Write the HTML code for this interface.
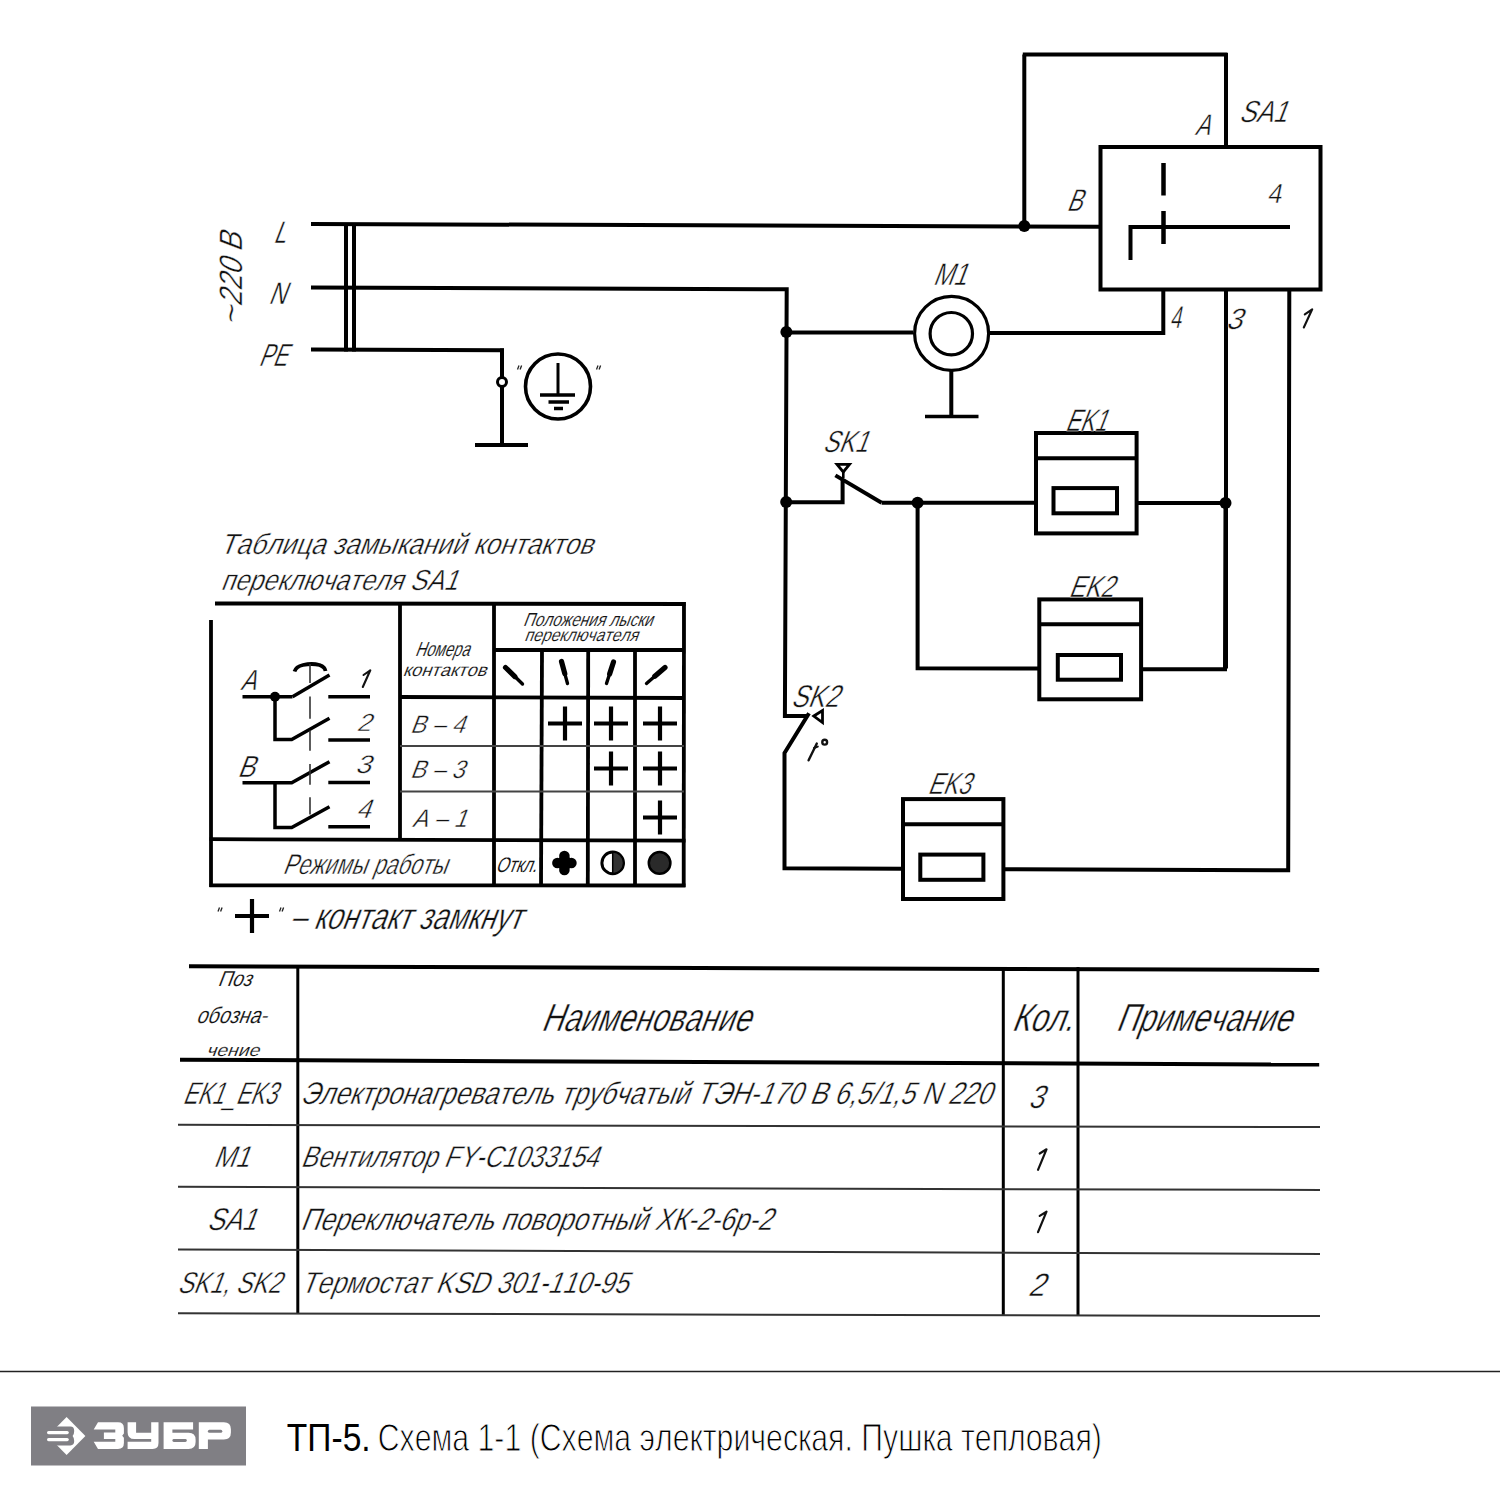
<!DOCTYPE html>
<html><head><meta charset="utf-8"><style>
html,body{margin:0;padding:0;background:#fff;}
svg{display:block;}
text{font-family:"Liberation Sans",sans-serif;font-kerning:none;font-variant-ligatures:none;}
</style></head><body>
<svg width="1500" height="1500" viewBox="0 0 1500 1500">
<rect width="1500" height="1500" fill="#fff"/>
<line x1="311" y1="223.9" x2="1100" y2="226.8" stroke="#000" stroke-width="4.0"/>
<polyline points="311,287.6 786.7,289.3 784.9,716 807.5,716" fill="none" stroke="#000" stroke-width="4.0" stroke-linejoin="miter"/>
<line x1="311" y1="349.5" x2="504" y2="350.3" stroke="#000" stroke-width="4.0"/>
<line x1="346" y1="223.0" x2="346" y2="351.5" stroke="#000" stroke-width="4.0"/>
<line x1="354" y1="223.0" x2="354" y2="351.5" stroke="#000" stroke-width="4.0"/>
<line x1="502" y1="348.5" x2="502" y2="445" stroke="#000" stroke-width="4.0"/>
<line x1="475" y1="445" x2="528" y2="445" stroke="#000" stroke-width="4"/>
<circle cx="502" cy="382" r="4.5" fill="#fff" stroke="#000" stroke-width="3"/>
<circle cx="558" cy="386.5" r="32.5" fill="none" stroke="#000" stroke-width="3.6"/>
<line x1="558" y1="363" x2="558" y2="395" stroke="#000" stroke-width="3"/>
<line x1="540" y1="395" x2="575" y2="395" stroke="#000" stroke-width="3.5"/>
<line x1="548.5" y1="402" x2="569" y2="402" stroke="#000" stroke-width="3.5"/>
<line x1="554" y1="408.5" x2="563" y2="408.5" stroke="#000" stroke-width="3.5"/>
<line x1="519.0" y1="365.5" x2="517.5" y2="369.5" stroke="#222" stroke-width="1.3"/>
<line x1="521.6" y1="365.5" x2="520.1" y2="369.5" stroke="#222" stroke-width="1.3"/>
<line x1="598.0" y1="365.5" x2="596.5" y2="369.5" stroke="#222" stroke-width="1.3"/>
<line x1="600.6" y1="365.5" x2="599.1" y2="369.5" stroke="#222" stroke-width="1.3"/>
<g transform="translate(272.90,242.50) skewX(-21.0)"><text x="0" y="0" font-size="31.25" textLength="12.22" lengthAdjust="spacingAndGlyphs" fill="#111" stroke="#fff" stroke-width="0.45">L</text></g>
<g transform="translate(268.05,304.00) skewX(-21.0)"><text x="0" y="0" font-size="31.25" textLength="17.13" lengthAdjust="spacingAndGlyphs" fill="#111" stroke="#fff" stroke-width="0.45">N</text></g>
<g transform="translate(258.27,366.00) skewX(-21.0)"><text x="0" y="0" font-size="31.98" textLength="28.11" lengthAdjust="spacingAndGlyphs" fill="#111" stroke="#fff" stroke-width="0.45">PE</text></g>
<g transform="translate(241.7,305.5) rotate(-90) translate(-1.41,0) skewX(-21.0)"><text x="0" y="0" font-size="32.41" textLength="73.35" lengthAdjust="spacingAndGlyphs" fill="#111" stroke="#fff" stroke-width="0.45">220 B</text></g>
<g transform="translate(241.7,322) rotate(-90) translate(-5.05,0) skewX(-21.0)"><text x="0" y="0" font-size="32.41" textLength="19.82" lengthAdjust="spacingAndGlyphs" fill="#111" stroke="#fff" stroke-width="0.45">~</text></g>
<line x1="1024.3" y1="226" x2="1024.3" y2="54.5" stroke="#000" stroke-width="4.0"/>
<line x1="1022.8" y1="54.5" x2="1227.5" y2="54.5" stroke="#000" stroke-width="4.0"/>
<line x1="1226" y1="53" x2="1226" y2="147" stroke="#000" stroke-width="4.0"/>
<rect x="1100.5" y="147" width="220.0" height="142.5" fill="none" stroke="#000" stroke-width="4.0"/>
<line x1="1163.5" y1="163" x2="1163.5" y2="195.5" stroke="#000" stroke-width="4.5"/>
<line x1="1163.5" y1="211" x2="1163.5" y2="244" stroke="#000" stroke-width="4.5"/>
<polyline points="1130.5,260 1130.5,227 1290,227" fill="none" stroke="#000" stroke-width="4.0" stroke-linejoin="miter"/>
<circle cx="1024.3" cy="226" r="6" fill="#000"/>
<g transform="translate(1194.46,135.20) skewX(-21.0)"><text x="0" y="0" font-size="29.80" textLength="14.89" lengthAdjust="spacingAndGlyphs" fill="#111" stroke="#fff" stroke-width="0.45">A</text></g>
<g transform="translate(1238.46,122.00) skewX(-21.0)"><text x="0" y="0" font-size="30.52" textLength="47.97" lengthAdjust="spacingAndGlyphs" fill="#111" stroke="#fff" stroke-width="0.45">SA1</text></g>
<g transform="translate(1066.13,211.00) skewX(-21.0)"><text x="0" y="0" font-size="31.25" textLength="15.20" lengthAdjust="spacingAndGlyphs" fill="#111" stroke="#fff" stroke-width="0.45">B</text></g>
<g transform="translate(1267.11,203.00) skewX(-12)"><text x="0" y="0" font-size="27.62" textLength="14.03" lengthAdjust="spacingAndGlyphs" fill="#111" stroke="#fff" stroke-width="0.45">4</text></g>
<polyline points="1163.3,289.5 1163.3,333 990,333" fill="none" stroke="#000" stroke-width="4.0" stroke-linejoin="miter"/>
<line x1="1226" y1="289.5" x2="1226" y2="668.5" stroke="#000" stroke-width="4.0"/>
<polyline points="1289.3,289.5 1288.2,870.2 1003.4,869.2" fill="none" stroke="#000" stroke-width="4.0" stroke-linejoin="miter"/>
<g transform="translate(1169.71,328.10) skewX(-12)"><text x="0" y="0" font-size="31.10" textLength="11.17" lengthAdjust="spacingAndGlyphs" fill="#111" stroke="#fff" stroke-width="0.45">4</text></g>
<g transform="translate(1225.46,328.60) skewX(-21.0)"><text x="0" y="0" font-size="29.51" textLength="15.94" lengthAdjust="spacingAndGlyphs" fill="#111" stroke="#fff" stroke-width="0.45">3</text></g>
<polyline points="1304.8,314.4 1312.2,309.3 1303.8,327.5" fill="none" stroke="#111" stroke-width="2.1" stroke-linecap="round" stroke-linejoin="round"/>
<line x1="786" y1="332.5" x2="913" y2="332.5" stroke="#000" stroke-width="4.0"/>
<circle cx="786.4" cy="332" r="6" fill="#000"/>
<circle cx="951.6" cy="333.4" r="37" fill="none" stroke="#000" stroke-width="3.2"/>
<circle cx="951.3" cy="333.7" r="21.2" fill="none" stroke="#000" stroke-width="3.2"/>
<line x1="951.3" y1="370.5" x2="951.3" y2="416.5" stroke="#000" stroke-width="4.0"/>
<line x1="925" y1="416.5" x2="978.5" y2="416.5" stroke="#000" stroke-width="3.5"/>
<g transform="translate(932.42,285.20) skewX(-21.0)"><text x="0" y="0" font-size="31.40" textLength="33.50" lengthAdjust="spacingAndGlyphs" fill="#111" stroke="#fff" stroke-width="0.45">M1</text></g>
<circle cx="786.2" cy="502" r="6" fill="#000"/>
<polyline points="786,502.2 842.6,502.2 842.6,479" fill="none" stroke="#000" stroke-width="4.0" stroke-linejoin="miter"/>
<line x1="835.4" y1="475.4" x2="881.6" y2="502.8" stroke="#000" stroke-width="4.0"/>
<line x1="881.6" y1="502.8" x2="1036" y2="502.8" stroke="#000" stroke-width="4.0"/>
<circle cx="917.6" cy="502.8" r="6" fill="#000"/>
<line x1="1137" y1="503" x2="1226" y2="503" stroke="#000" stroke-width="4.0"/>
<circle cx="1225.5" cy="503" r="6" fill="#000"/>
<polygon points="837,464.3 849.5,464.3 843.3,472" fill="none" stroke="#000" stroke-width="2.8" stroke-linejoin="miter"/>
<line x1="843.3" y1="472" x2="843.3" y2="478" stroke="#000" stroke-width="2.6"/>
<g transform="translate(822.36,451.80) skewX(-21.0)"><text x="0" y="0" font-size="30.52" textLength="44.92" lengthAdjust="spacingAndGlyphs" fill="#111" stroke="#fff" stroke-width="0.45">SK1</text></g>
<rect x="1036" y="433" width="100.59999999999991" height="100.39999999999998" fill="none" stroke="#000" stroke-width="4.0"/>
<line x1="1036" y1="458.2" x2="1136.6" y2="458.2" stroke="#000" stroke-width="4.0"/>
<rect x="1053.5" y="488.1" width="63.5" height="25.199999999999932" fill="none" stroke="#000" stroke-width="4.0"/>
<g transform="translate(1064.71,430.70) skewX(-21.0)"><text x="0" y="0" font-size="31.25" textLength="41.26" lengthAdjust="spacingAndGlyphs" fill="#111" stroke="#fff" stroke-width="0.45">EK1</text></g>
<polyline points="917.6,502.8 917.6,668.2 1039.5,668.5" fill="none" stroke="#000" stroke-width="4.0" stroke-linejoin="miter"/>
<polyline points="1140.5,669.2 1225,669.2 1225.5,503" fill="none" stroke="#000" stroke-width="4.0" stroke-linejoin="miter"/>
<rect x="1039.3" y="599.4" width="101.79999999999995" height="99.89999999999998" fill="none" stroke="#000" stroke-width="4.0"/>
<line x1="1039.3" y1="624.2" x2="1141.1" y2="624.2" stroke="#000" stroke-width="4.0"/>
<rect x="1057.8" y="655" width="63.200000000000045" height="24.700000000000045" fill="none" stroke="#000" stroke-width="4.0"/>
<g transform="translate(1068.15,597.10) skewX(-21.0)"><text x="0" y="0" font-size="30.52" textLength="44.91" lengthAdjust="spacingAndGlyphs" fill="#111" stroke="#fff" stroke-width="0.45">EK2</text></g>
<polyline points="809,713.3 784.5,753 784.5,868.2 902.5,868.8" fill="none" stroke="#000" stroke-width="4.0" stroke-linejoin="miter"/>
<polygon points="813.8,716 822.5,710.5 822.5,722.5" fill="none" stroke="#000" stroke-width="2.8" stroke-linejoin="miter"/>
<g transform="translate(790.53,707.40) skewX(-21.0)"><text x="0" y="0" font-size="31.40" textLength="47.54" lengthAdjust="spacingAndGlyphs" fill="#111" stroke="#fff" stroke-width="0.45">SK2</text></g>
<line x1="808.6" y1="760.3" x2="816.8" y2="743.5" stroke="#111" stroke-width="2.4" stroke-linecap="round"/>
<line x1="814" y1="748" x2="817.8" y2="746.6" stroke="#111" stroke-width="2" stroke-linecap="round"/>
<circle cx="824.7" cy="742.2" r="2.4" fill="none" stroke="#111" stroke-width="2.4"/>
<rect x="903" y="799.1" width="100.39999999999998" height="99.89999999999998" fill="none" stroke="#000" stroke-width="4.0"/>
<line x1="903" y1="824.3" x2="1003.4" y2="824.3" stroke="#000" stroke-width="4.0"/>
<rect x="920.3" y="854.6" width="63.10000000000002" height="25.199999999999932" fill="none" stroke="#000" stroke-width="4.0"/>
<g transform="translate(927.36,793.90) skewX(-21.0)"><text x="0" y="0" font-size="30.52" textLength="42.42" lengthAdjust="spacingAndGlyphs" fill="#111" stroke="#fff" stroke-width="0.45">EK3</text></g>
<g transform="translate(219.20,554.30) skewX(-21.0)"><text x="0" y="0" font-size="29.07" textLength="372.96" lengthAdjust="spacingAndGlyphs" fill="#111" stroke="#fff" stroke-width="0.45">Таблица замыканий контактов</text></g>
<g transform="translate(220.25,590.30) skewX(-21.0)"><text x="0" y="0" font-size="29.07" textLength="236.85" lengthAdjust="spacingAndGlyphs" fill="#111" stroke="#fff" stroke-width="0.45">переключателя SA1</text></g>
<line x1="215" y1="603.4" x2="685.5" y2="604" stroke="#000" stroke-width="4"/>
<line x1="211" y1="620" x2="211" y2="887" stroke="#000" stroke-width="3.8"/>
<line x1="684" y1="602" x2="683.7" y2="887" stroke="#000" stroke-width="3.8"/>
<line x1="209.5" y1="885.3" x2="685.5" y2="885.5" stroke="#000" stroke-width="3.8"/>
<line x1="209.5" y1="839.2" x2="685.5" y2="840.7" stroke="#000" stroke-width="3.8"/>
<line x1="400" y1="603.5" x2="400" y2="839.5" stroke="#000" stroke-width="3.8"/>
<line x1="494" y1="603.5" x2="494" y2="886.5" stroke="#000" stroke-width="3.8"/>
<line x1="494" y1="650" x2="684" y2="650" stroke="#000" stroke-width="3.8"/>
<line x1="400" y1="697" x2="684" y2="698" stroke="#000" stroke-width="3.8"/>
<line x1="542" y1="650" x2="541" y2="886.5" stroke="#000" stroke-width="3.8"/>
<line x1="588.2" y1="650" x2="587.8" y2="886.5" stroke="#000" stroke-width="3.8"/>
<line x1="635" y1="650" x2="635" y2="886.5" stroke="#000" stroke-width="3.8"/>
<line x1="400" y1="746" x2="684" y2="746" stroke="#444" stroke-width="1.8"/>
<line x1="400" y1="791.5" x2="684" y2="791.5" stroke="#444" stroke-width="1.8"/>
<g transform="translate(522.85,625.50) skewX(-21.0)"><text x="0" y="0" font-size="18.90" textLength="129.19" lengthAdjust="spacingAndGlyphs" fill="#111" stroke="#fff" stroke-width="0.15">Положения лыски</text></g>
<g transform="translate(523.91,641.40) skewX(-21.0)"><text x="0" y="0" font-size="17.80" textLength="113.58" lengthAdjust="spacingAndGlyphs" fill="#111" stroke="#fff" stroke-width="0.15">переключателя</text></g>
<g transform="translate(414.78,656.30) skewX(-21.0)"><text x="0" y="0" font-size="20.35" textLength="54.14" lengthAdjust="spacingAndGlyphs" fill="#111" stroke="#fff" stroke-width="0.15">Номера</text></g>
<g transform="translate(402.46,675.90) skewX(-21.0)"><text x="0" y="0" font-size="17.61" textLength="83.50" lengthAdjust="spacingAndGlyphs" fill="#111" stroke="#fff" stroke-width="0.15">контактов</text></g>
<line x1="505.5" y1="667.5" x2="514.85" y2="676.575" stroke="#000" stroke-width="5.2" stroke-linecap="round"/>
<line x1="514.85" y1="676.575" x2="522.5" y2="684" stroke="#000" stroke-width="3.4" stroke-linecap="round"/>
<line x1="561.5" y1="661.5" x2="564.8" y2="673.6" stroke="#000" stroke-width="5.2" stroke-linecap="round"/>
<line x1="564.8" y1="673.6" x2="567.5" y2="683.5" stroke="#000" stroke-width="3.4" stroke-linecap="round"/>
<line x1="613.5" y1="662" x2="609.65" y2="673.825" stroke="#000" stroke-width="5.2" stroke-linecap="round"/>
<line x1="609.65" y1="673.825" x2="606.5" y2="683.5" stroke="#000" stroke-width="3.4" stroke-linecap="round"/>
<line x1="665" y1="667.5" x2="654.825" y2="676.3" stroke="#000" stroke-width="5.2" stroke-linecap="round"/>
<line x1="654.825" y1="676.3" x2="646.5" y2="683.5" stroke="#000" stroke-width="3.4" stroke-linecap="round"/>
<g transform="translate(409.79,733.00) skewX(-21.0)"><text x="0" y="0" font-size="25.44" textLength="54.43" lengthAdjust="spacingAndGlyphs" fill="#111" stroke="#fff" stroke-width="0.45">B – 4</text></g>
<g transform="translate(409.80,778.00) skewX(-21.0)"><text x="0" y="0" font-size="25.44" textLength="54.21" lengthAdjust="spacingAndGlyphs" fill="#111" stroke="#fff" stroke-width="0.45">B – 3</text></g>
<g transform="translate(411.65,827.00) skewX(-21.0)"><text x="0" y="0" font-size="25.44" textLength="54.70" lengthAdjust="spacingAndGlyphs" fill="#111" stroke="#fff" stroke-width="0.45">A – 1</text></g>
<line x1="548" y1="723.5" x2="582" y2="723.5" stroke="#000" stroke-width="4.2"/>
<line x1="565" y1="706.5" x2="565" y2="740.5" stroke="#000" stroke-width="4.2"/>
<line x1="594" y1="723.5" x2="628" y2="723.5" stroke="#000" stroke-width="4.2"/>
<line x1="611" y1="706.5" x2="611" y2="740.5" stroke="#000" stroke-width="4.2"/>
<line x1="643" y1="723.5" x2="677" y2="723.5" stroke="#000" stroke-width="4.2"/>
<line x1="660" y1="706.5" x2="660" y2="740.5" stroke="#000" stroke-width="4.2"/>
<line x1="594" y1="768.5" x2="628" y2="768.5" stroke="#000" stroke-width="4.2"/>
<line x1="611" y1="751.5" x2="611" y2="785.5" stroke="#000" stroke-width="4.2"/>
<line x1="643" y1="768.5" x2="677" y2="768.5" stroke="#000" stroke-width="4.2"/>
<line x1="660" y1="751.5" x2="660" y2="785.5" stroke="#000" stroke-width="4.2"/>
<line x1="643" y1="817.5" x2="677" y2="817.5" stroke="#000" stroke-width="4.2"/>
<line x1="660" y1="800.5" x2="660" y2="834.5" stroke="#000" stroke-width="4.2"/>
<g transform="translate(282.22,873.70) skewX(-21.0)"><text x="0" y="0" font-size="28.20" textLength="164.27" lengthAdjust="spacingAndGlyphs" fill="#111" stroke="#fff" stroke-width="0.45">Режимы работы</text></g>
<g transform="translate(495.30,872.30) skewX(-21.0)"><text x="0" y="0" font-size="21.22" textLength="41.01" lengthAdjust="spacingAndGlyphs" fill="#111" stroke="#fff" stroke-width="0.1">Откл.</text></g>
<g fill="#000"><circle cx="564.4" cy="856" r="5.3"/><circle cx="564.4" cy="870" r="5.3"/><circle cx="557.4" cy="863" r="5.3"/><circle cx="571.4" cy="863" r="5.3"/><rect x="559" y="857.5" width="11" height="11"/></g>
<circle cx="612.7" cy="862.9" r="10.8" fill="none" stroke="#000" stroke-width="3"/>
<path d="M612.7,852.1 A10.8,10.8 0 0 1 612.7,873.7 Z" fill="#333" stroke="#000" stroke-width="1.5"/>
<circle cx="659.6" cy="862.9" r="10.8" fill="#2a2a2a" stroke="#000" stroke-width="2.5"/>
<line x1="242.5" y1="696.7" x2="292.5" y2="696.7" stroke="#000" stroke-width="3.5"/>
<circle cx="275" cy="696.7" r="5" fill="#000"/>
<line x1="292.5" y1="696.7" x2="329.5" y2="675" stroke="#000" stroke-width="3.5"/>
<path d="M294.5,671.5 Q296,666.5 303,665 Q312,663 319.5,665 Q325,667 325.5,671" fill="none" stroke="#000" stroke-width="3.8"/>
<line x1="328.3" y1="696.7" x2="370" y2="696.7" stroke="#000" stroke-width="3.5"/>
<polyline points="275,696.7 275,739.5 291.7,739.5 329.5,718.3" fill="none" stroke="#000" stroke-width="3.5" stroke-linejoin="miter"/>
<line x1="328.3" y1="740" x2="370" y2="740" stroke="#000" stroke-width="3.5"/>
<polyline points="242.5,782.8 291.7,782.8 329.5,761.7" fill="none" stroke="#000" stroke-width="3.5" stroke-linejoin="miter"/>
<line x1="328.3" y1="782.5" x2="370" y2="782.5" stroke="#000" stroke-width="3.5"/>
<polyline points="275,782.8 275,827.5 291.7,827.5 329.5,806.7" fill="none" stroke="#000" stroke-width="3.5" stroke-linejoin="miter"/>
<line x1="328.3" y1="826.7" x2="370" y2="826.7" stroke="#000" stroke-width="3.5"/>
<line x1="310" y1="664" x2="310" y2="683" stroke="#333" stroke-width="1.6"/>
<line x1="310" y1="696.6" x2="310" y2="718.8" stroke="#333" stroke-width="1.6"/>
<line x1="310" y1="730.4" x2="310" y2="750.8" stroke="#333" stroke-width="1.6"/>
<line x1="310" y1="763.9" x2="310" y2="784.7" stroke="#333" stroke-width="1.6"/>
<line x1="310" y1="797.2" x2="310" y2="814.6" stroke="#333" stroke-width="1.6"/>
<g transform="translate(239.95,690.00) skewX(-21.0)"><text x="0" y="0" font-size="29.07" textLength="15.56" lengthAdjust="spacingAndGlyphs" fill="#111" stroke="#fff" stroke-width="0.45">A</text></g>
<g transform="translate(236.88,776.70) skewX(-21.0)"><text x="0" y="0" font-size="30.52" textLength="17.25" lengthAdjust="spacingAndGlyphs" fill="#111" stroke="#fff" stroke-width="0.45">B</text></g>
<polyline points="363.5,675 370.3,670.3 362.8,687" fill="none" stroke="#111" stroke-width="2.1" stroke-linecap="round" stroke-linejoin="round"/>
<g transform="translate(356.20,731.00) skewX(-21.0)"><text x="0" y="0" font-size="24.71" textLength="14.33" lengthAdjust="spacingAndGlyphs" fill="#111" stroke="#fff" stroke-width="0.45">2</text></g>
<g transform="translate(354.87,773.30) skewX(-21.0)"><text x="0" y="0" font-size="25.44" textLength="15.72" lengthAdjust="spacingAndGlyphs" fill="#111" stroke="#fff" stroke-width="0.45">3</text></g>
<g transform="translate(355.80,817.50) skewX(-21.0)"><text x="0" y="0" font-size="26.89" textLength="14.35" lengthAdjust="spacingAndGlyphs" fill="#111" stroke="#fff" stroke-width="0.45">4</text></g>
<line x1="235" y1="916" x2="269" y2="916" stroke="#000" stroke-width="4.2"/>
<line x1="252" y1="899" x2="252" y2="933" stroke="#000" stroke-width="4.2"/>
<line x1="219.5" y1="907.5" x2="218" y2="911.5" stroke="#222" stroke-width="1.3"/>
<line x1="222.1" y1="907.5" x2="220.6" y2="911.5" stroke="#222" stroke-width="1.3"/>
<line x1="281.0" y1="907.5" x2="279.5" y2="911.5" stroke="#222" stroke-width="1.3"/>
<line x1="283.6" y1="907.5" x2="282.1" y2="911.5" stroke="#222" stroke-width="1.3"/>
<g transform="translate(289.38,928.50) skewX(-21.0)"><text x="0" y="0" font-size="36.93" textLength="231.61" lengthAdjust="spacingAndGlyphs" fill="#111" stroke="#fff" stroke-width="0.45">– контакт замкнут</text></g>
<line x1="189" y1="966.2" x2="1319.2" y2="970" stroke="#000" stroke-width="4"/>
<line x1="180" y1="1059.8" x2="1319.2" y2="1064.6" stroke="#000" stroke-width="4"/>
<line x1="297.8" y1="966" x2="297.8" y2="1314" stroke="#000" stroke-width="3"/>
<line x1="1003.3" y1="967" x2="1003.3" y2="1316" stroke="#000" stroke-width="3"/>
<line x1="1078" y1="967" x2="1078" y2="1316" stroke="#000" stroke-width="3"/>
<line x1="178" y1="1124.8" x2="1320" y2="1127" stroke="#333" stroke-width="2"/>
<line x1="178" y1="1186.8" x2="1320" y2="1190" stroke="#333" stroke-width="2"/>
<line x1="178" y1="1249.4" x2="1320" y2="1254" stroke="#333" stroke-width="2"/>
<line x1="178" y1="1313.2" x2="1320" y2="1316" stroke="#333" stroke-width="2"/>
<g transform="translate(217.22,986.20) skewX(-21.0)"><text x="0" y="0" font-size="21.51" textLength="33.85" lengthAdjust="spacingAndGlyphs" fill="#111" stroke="#fff" stroke-width="0.15">Поз</text></g>
<g transform="translate(195.66,1023.00) skewX(-21.0)"><text x="0" y="0" font-size="22.73" textLength="70.56" lengthAdjust="spacingAndGlyphs" fill="#111" stroke="#fff" stroke-width="0.15">обозна-</text></g>
<g transform="translate(205.74,1056.20) skewX(-21.0)"><text x="0" y="0" font-size="17.05" textLength="52.90" lengthAdjust="spacingAndGlyphs" fill="#111" stroke="#fff" stroke-width="0.15">чение</text></g>
<g transform="translate(540.53,1030.60) skewX(-21.0)"><text x="0" y="0" font-size="39.24" textLength="208.94" lengthAdjust="spacingAndGlyphs" fill="#111" stroke="#fff" stroke-width="0.45">Наименование</text></g>
<g transform="translate(1011.10,1030.60) skewX(-21.0)"><text x="0" y="0" font-size="39.24" textLength="60.86" lengthAdjust="spacingAndGlyphs" fill="#111" stroke="#fff" stroke-width="0.45">Кол.</text></g>
<g transform="translate(1115.16,1030.60) skewX(-21.0)"><text x="0" y="0" font-size="39.24" textLength="175.11" lengthAdjust="spacingAndGlyphs" fill="#111" stroke="#fff" stroke-width="0.45">Примечание</text></g>
<g transform="translate(182.22,1103.60) skewX(-21.0)"><text x="0" y="0" font-size="31.40" textLength="93.89" lengthAdjust="spacingAndGlyphs" fill="#111" stroke="#fff" stroke-width="0.45">EK1_EK3</text></g>
<g transform="translate(299.79,1103.60) skewX(-21.0)"><text x="0" y="0" font-size="31.40" textLength="691.04" lengthAdjust="spacingAndGlyphs" fill="#111" stroke="#fff" stroke-width="0.45">Электронагреватель трубчатый ТЭН-170 В 6,5/1,5 N 220</text></g>
<g transform="translate(1027.71,1107.60) skewX(-21.0)"><text x="0" y="0" font-size="32.56" textLength="15.20" lengthAdjust="spacingAndGlyphs" fill="#111" stroke="#fff" stroke-width="0.45">3</text></g>
<g transform="translate(213.09,1166.80) skewX(-21.0)"><text x="0" y="0" font-size="30.23" textLength="35.68" lengthAdjust="spacingAndGlyphs" fill="#111" stroke="#fff" stroke-width="0.45">M1</text></g>
<g transform="translate(300.37,1166.80) skewX(-21.0)"><text x="0" y="0" font-size="30.23" textLength="297.17" lengthAdjust="spacingAndGlyphs" fill="#111" stroke="#fff" stroke-width="0.45">Вентилятор FY-C1033154</text></g>
<polyline points="1039.7,1153.5 1046.5,1149.3 1038,1169.8" fill="none" stroke="#111" stroke-width="2.2" stroke-linecap="round" stroke-linejoin="round"/>
<g transform="translate(206.38,1230.20) skewX(-21.0)"><text x="0" y="0" font-size="31.40" textLength="49.15" lengthAdjust="spacingAndGlyphs" fill="#111" stroke="#fff" stroke-width="0.45">SA1</text></g>
<g transform="translate(300.07,1230.20) skewX(-21.0)"><text x="0" y="0" font-size="31.40" textLength="471.18" lengthAdjust="spacingAndGlyphs" fill="#111" stroke="#fff" stroke-width="0.45">Переключатель поворотный ХК-2-6р-2</text></g>
<polyline points="1039.7,1215.9 1046.5,1211.7 1038,1232.2" fill="none" stroke="#111" stroke-width="2.2" stroke-linecap="round" stroke-linejoin="round"/>
<g transform="translate(176.97,1292.60) skewX(-21.0)"><text x="0" y="0" font-size="30.23" textLength="103.37" lengthAdjust="spacingAndGlyphs" fill="#111" stroke="#fff" stroke-width="0.45">SK1, SK2</text></g>
<g transform="translate(300.31,1292.60) skewX(-21.0)"><text x="0" y="0" font-size="30.23" textLength="327.22" lengthAdjust="spacingAndGlyphs" fill="#111" stroke="#fff" stroke-width="0.45">Термостат KSD 301-110-95</text></g>
<g transform="translate(1027.53,1296.40) skewX(-21.0)"><text x="0" y="0" font-size="32.56" textLength="16.30" lengthAdjust="spacingAndGlyphs" fill="#111" stroke="#fff" stroke-width="0.45">2</text></g>
<line x1="0" y1="1371.5" x2="1500" y2="1371.5" stroke="#222" stroke-width="1.3"/>
<rect x="31" y="1406.5" width="215" height="59" fill="#807f84"/>
<path d="M66.6,1417 L85.4,1436 L66.6,1455 L47.8,1436 Z" fill="#fff"/>
<path d="M46,1426.6 H70.4 Q74.2,1426.6 74.2,1431 Q74.2,1434.2 72.6,1436 Q74.2,1437.8 74.2,1441 Q74.2,1445.4 70.4,1445.4 H46 Z" fill="#807f84"/>
<rect x="47" y="1431" width="21.8" height="3.2" rx="1.6" fill="#fff"/>
<rect x="47" y="1438" width="21.8" height="3.2" rx="1.6" fill="#fff"/>
<path d="M98,1422.3 H118 Q123.9,1422.3 123.9,1428.2 V1433.6 L122.2,1435.7 L123.9,1437.8 V1443 Q123.9,1448.9 118,1448.9 H98 L93.7,1441.7 H115.3 V1439.1 H103.9 V1432.4 H115.3 V1429.5 H93.7 Z" fill="#fff"/>
<path d="M127.6,1422.3 H136.1 V1432.7 H151.2 V1422.3 H158.5 V1443 Q158.5,1448.9 152.6,1448.9 H127.6 V1441.7 H151.2 V1439.1 H134.5 Q127.6,1439.1 127.6,1432.2 Z" fill="#fff"/>
<path d="M163.6,1422.3 H193.1 V1429.5 H172.4 V1432.8 H188.6 Q195.6,1432.8 195.6,1439.8 V1441.9 Q195.6,1448.9 188.6,1448.9 H163.6 Z" fill="#fff"/>
<rect x="172.4" y="1439.1" width="14.4" height="2.8" rx="1.4" fill="#807f84"/>
<path d="M198.8,1422.3 H223.9 Q230.9,1422.3 230.9,1429.3 V1432.6 Q230.9,1439.6 223.9,1439.6 H207.9 V1448.9 H198.8 Z" fill="#fff"/>
<rect x="207.9" y="1429.7" width="14.4" height="3.1" rx="1.5" fill="#807f84"/>
<g transform="translate(286.85,1450.80) skewX(0)"><text x="0" y="0" font-size="38.66" textLength="83.82" lengthAdjust="spacingAndGlyphs" fill="#000">ТП-5.</text></g>
<g transform="translate(377.66,1450.80) skewX(0)"><text x="0" y="0" font-size="38.66" textLength="724.21" lengthAdjust="spacingAndGlyphs" fill="#000" stroke="#fff" stroke-width="1.0">Схема 1-1 (Схема электрическая. Пушка тепловая)</text></g>
</svg>
</body></html>
